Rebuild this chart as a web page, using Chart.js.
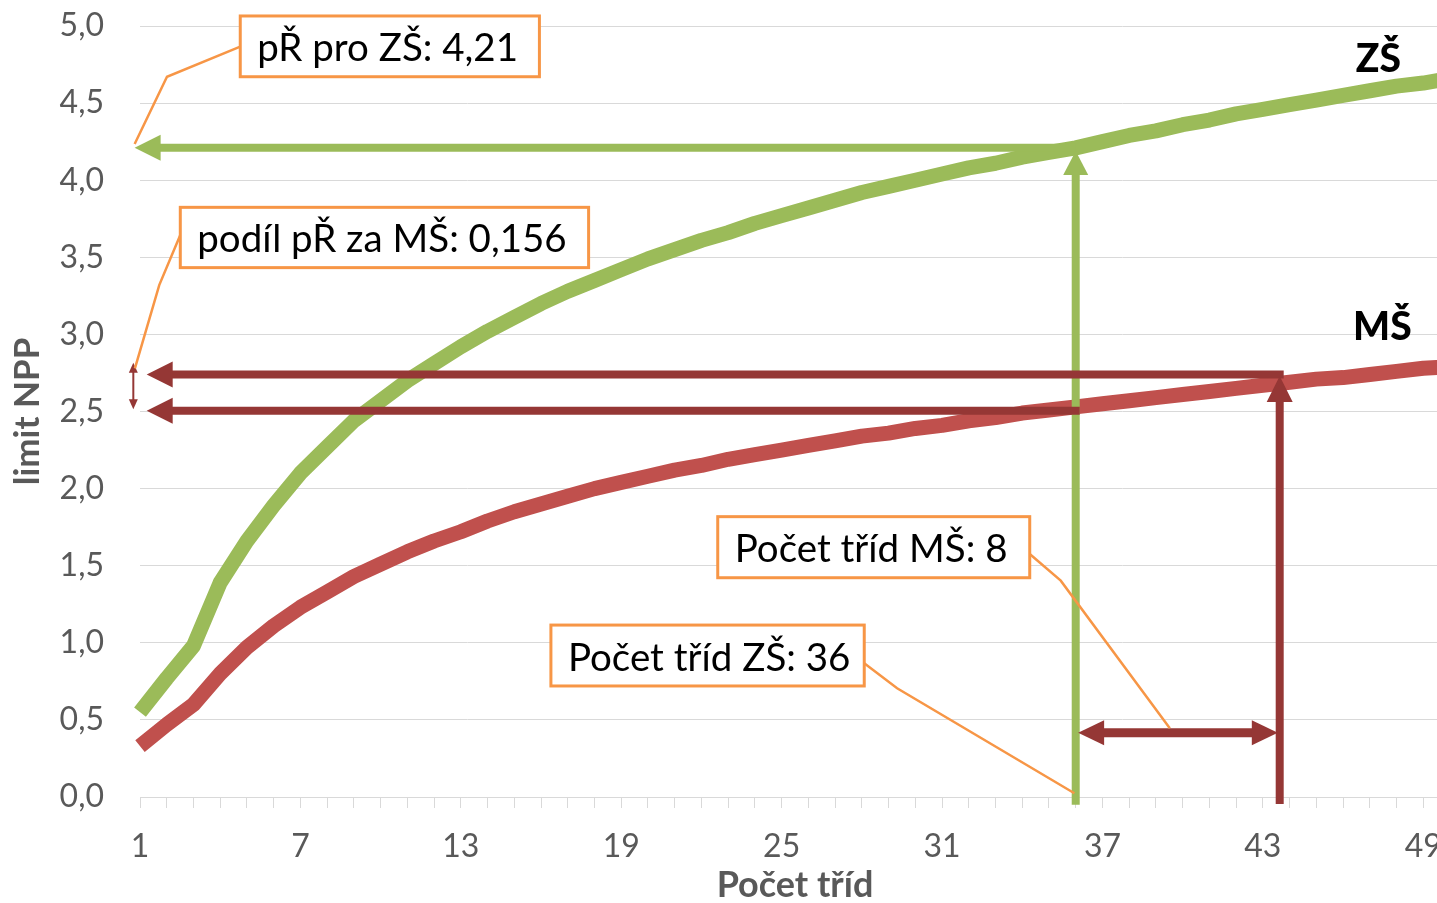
<!DOCTYPE html>
<html><head><meta charset="utf-8">
<script src="https://cdn.jsdelivr.net/npm/chart.js@4.4.1/dist/chart.umd.min.js"></script>
<style>
html,body{margin:0;padding:0;overflow:hidden;background:#fff;width:1437px;height:903px}
#wrap{position:absolute;left:0;top:0;width:1470px;height:903px}
</style></head><body>
<div id="wrap"><canvas id="c" width="1470" height="903" style="width:1470px;height:903px"></canvas></div>
<script>
// ---- data ----
const categories = [1,2,3,4,5,6,7,8,9,10,11,12,13,14,15,16,17,18,19,20,21,22,23,24,25,26,27,28,29,30,31,32,33,34,35,36,37,38,39,40,41,42,43,44,45,46,47,48,49,50];
const zsValues = [0.55,0.77,0.98,1.39,1.66,1.89,2.10,2.27,2.44,2.57,
                  2.70,2.81,2.92,3.02,3.11,3.20,3.28,3.35,3.42,3.49,
                  3.55,3.61,3.66,3.72,3.77,3.82,3.87,3.92,3.96,4.00,
                  4.04,4.08,4.11,4.15,4.18,4.21,4.25,4.29,4.32,4.36,
                  4.39,4.43,4.46,4.49,4.52,4.55,4.58,4.61,4.63,4.66];
const msValues = [0.33,0.47,0.60,0.80,0.97,1.11,1.23,1.33,1.43,1.51,
                  1.59,1.66,1.72,1.79,1.85,1.90,1.95,2.00,2.04,2.08,
                  2.12,2.15,2.19,2.22,2.25,2.28,2.31,2.34,2.36,2.39,
                  2.41,2.44,2.46,2.49,2.51,2.53,2.55,2.57,2.59,2.61,
                  2.63,2.65,2.67,2.69,2.71,2.72,2.74,2.76,2.78,2.79];
const xTickLabels = ['1','7','13','19','25','31','37','43','49'];
const seriesNames = ['ZŠ','MŠ'];
const zsClasses = 36, zsLimit = 4.21;
const msClasses = 8, msShare = 0.156;
// arrow positions as drawn in the picture (category, value)
const msArrowX = 43.63;
const msArrowLevels = [2.505, 2.74];

const fmt = (v, d) => v.toFixed(d).replace('.', ',');

const GREEN = '#9BBB59', RED = '#C0504D', MAROON = '#953735', ORANGE = '#F79646';
const FONT = "Lato, 'Open Sans', sans-serif";

const annotPlugin = {
  id: 'annot',
  afterDatasetsDraw(chart) {
    const {ctx} = chart;
    const xs = chart.scales.x, ys = chart.scales.y;
    const X = c => xs.getPixelForValue(c - 1);
    const Y = v => ys.getPixelForValue(v);
    ctx.save();
    function poly(pts, color, w) {
      ctx.beginPath();
      pts.forEach((p, i) => i ? ctx.lineTo(p[0], p[1]) : ctx.moveTo(p[0], p[1]));
      ctx.strokeStyle = color; ctx.lineWidth = w; ctx.lineCap = 'butt'; ctx.lineJoin = 'miter';
      ctx.stroke();
    }
    function head(tx, ty, ux, uy, len, half, color) {
      const bx = tx - ux * len, by = ty - uy * len;
      ctx.beginPath();
      ctx.moveTo(tx, ty);
      ctx.lineTo(bx - uy * half, by + ux * half);
      ctx.lineTo(bx + uy * half, by - ux * half);
      ctx.closePath();
      ctx.fillStyle = color; ctx.fill();
    }
    function arrow(x1, y1, x2, y2, color, w, len, half, both) {
      const d = Math.hypot(x2 - x1, y2 - y1), ux = (x2 - x1) / d, uy = (y2 - y1) / d;
      const sx = both ? x1 + ux * len * 0.8 : x1, sy = both ? y1 + uy * len * 0.8 : y1;
      poly([[sx, sy], [x2 - ux * len * 0.8, y2 - uy * len * 0.8]], color, w);
      head(x2, y2, ux, uy, len, half, color);
      if (both) head(x1, y1, -ux, -uy, len, half, color);
    }
    // green arrows (ZŠ)
    arrow(X(zsClasses), Y(-0.05), X(zsClasses), Y(zsLimit - 0.02), GREEN, 8, 24, 12.5);
    arrow(X(zsClasses), Y(zsLimit), X(0.8), Y(zsLimit), GREEN, 8, 26, 13);
    // maroon arrows (MŠ)
    arrow(X(zsClasses) + 4, Y(msArrowLevels[0]), X(1.25), Y(msArrowLevels[0]), MAROON, 8, 26, 13);
    arrow(X(msArrowX) + 4, Y(msArrowLevels[1]), X(1.25), Y(msArrowLevels[1]), MAROON, 8, 26, 13);
    arrow(X(msArrowX), Y(-0.045), X(msArrowX), Y(msArrowLevels[1] - 0.01), MAROON, 8, 26, 13);
    arrow(X(zsClasses + 0.09), Y(0.417), X(msArrowX - 0.07), Y(0.417), MAROON, 9, 26, 12.5, true);
    arrow(X(0.75), Y(msArrowLevels[0] + 0.01), X(0.75), Y(msArrowLevels[1] + 0.076), MAROON, 2, 10, 4.5, true);

    // callouts
    const callouts = [
      {text: 'pŘ pro ZŠ: ' + fmt(zsLimit, 2), box: [4.75, 15.94, 5.065, 4.671],
       leader: [[4.75, 4.866], [2.01, 4.671], [0.80, 4.235]]},
      {text: 'podíl pŘ za MŠ: ' + fmt(msShare, 3), box: [2.507, 17.78, 3.824, 3.433],
       leader: [[2.507, 3.645], [1.72, 3.32], [0.81, 2.78]]},
      {text: 'Počet tříd MŠ: ' + msClasses, box: [22.61, 34.28, 1.818, 1.422],
       leader: [[34.28, 1.576], [35.44, 1.403], [39.52, 0.4455]]},
      {text: 'Počet tříd ZŠ: ' + zsClasses, box: [16.37, 28.09, 1.115, 0.72],
       leader: [[28.09, 0.867], [29.32, 0.705], [35.95, 0.024]]}
    ];
    callouts.forEach(c => poly(c.leader.map(p => [X(p[0]), Y(p[1])]), ORANGE, 2.5));
    callouts.forEach(c => {
      const l = X(c.box[0]), r = X(c.box[1]), t = Y(c.box[2]), b = Y(c.box[3]);
      ctx.fillStyle = '#fff';
      ctx.fillRect(l, t, r - l, b - t);
      ctx.strokeStyle = ORANGE; ctx.lineWidth = 3;
      ctx.strokeRect(l, t, r - l, b - t);
      let size = 38.5;
      ctx.font = size + 'px ' + FONT;
      const maxW = r - l - 22;
      const w = ctx.measureText(c.text).width;
      if (w > maxW) { size = size * maxW / w; ctx.font = size.toFixed(1) + 'px ' + FONT; }
      ctx.fillStyle = '#000'; ctx.textAlign = 'left'; ctx.textBaseline = 'alphabetic';
      ctx.fillText(c.text, l + 17, (t + b) / 2 + 15);
    });
    // series name labels
    ctx.font = '900 39px ' + FONT;
    ctx.fillStyle = '#000'; ctx.textAlign = 'center'; ctx.textBaseline = 'alphabetic';
    ctx.fillText(seriesNames[0], X(47.32), Y(4.704));
    ctx.fillText(seriesNames[1], X(47.47), Y(2.964));
    ctx.restore();
  }
};

function build() {
  Chart.defaults.font.family = FONT;
  new Chart(document.getElementById('c'), {
    type: 'line',
    data: {
      labels: categories.map(String),
      datasets: [
        {label: seriesNames[0], data: zsValues, borderColor: GREEN, borderWidth: 15, pointRadius: 0,
         tension: 0, borderJoinStyle: 'round', borderCapStyle: 'butt', fill: false},
        {label: seriesNames[1], data: msValues, borderColor: RED, borderWidth: 15, pointRadius: 0,
         tension: 0, borderJoinStyle: 'round', borderCapStyle: 'butt', fill: false}
      ]
    },
    options: {
      responsive: false,
      animation: false,
      events: [],
      layout: {padding: {top: 26, right: 20, left: 0, bottom: 0}},
      plugins: {legend: {display: false}, tooltip: {enabled: false}},
      scales: {
        x: {
          type: 'category',
          offset: false,
          grid: {display: true, drawOnChartArea: false, drawTicks: true, tickLength: 11, color: '#d9d9d9'},
          border: {display: true, color: '#d9d9d9', width: 1},
          ticks: {
            autoSkip: false, maxRotation: 0, minRotation: 0, padding: 19,
            color: '#595959', font: {size: 32},
            callback: function (v) { const l = this.getLabelForValue(v); return xTickLabels.includes(l) ? l : ''; }
          },
          title: {display: true, text: 'Počet tříd', color: '#595959', font: {size: 36, weight: 'bold'}, padding: {top: 0, bottom: -4}},
          afterFit: s => { s.height = 106; s.paddingLeft = 0; s.paddingRight = 0; }
        },
        y: {
          min: 0, max: 5,
          grid: {color: '#d9d9d9', lineWidth: 1, drawTicks: false},
          border: {display: false},
          ticks: {stepSize: 0.5, padding: 36, color: '#595959', font: {size: 32},
                  callback: v => fmt(v, 1)},
          title: {display: true, text: 'limit NPP', color: '#595959', font: {size: 35, weight: 'bold'}, padding: {top: 7, bottom: 0}},
          afterFit: s => { s.width = 140; s.paddingTop = 0; s.paddingBottom = 0; }
        }
      }
    },
    plugins: [annotPlugin]
  });
}
if (document.fonts && document.fonts.load) {
  Promise.all([document.fonts.load('32px Lato'), document.fonts.load('bold 36px Lato'), document.fonts.load('900 39px Lato')]).then(build, build);
} else build();
</script>
</body></html>
